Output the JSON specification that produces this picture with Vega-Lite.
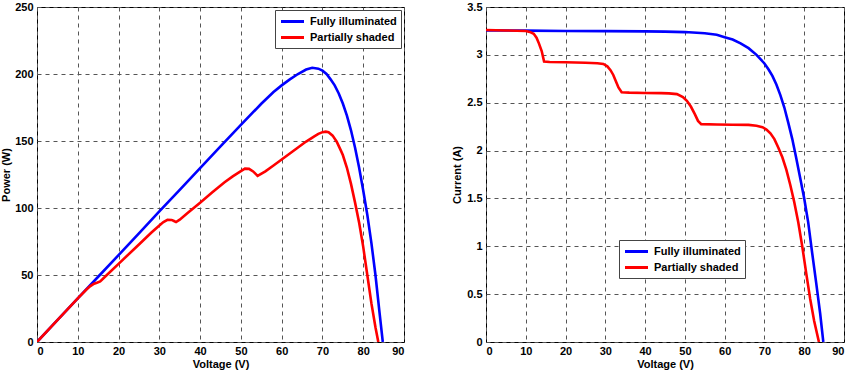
{
  "$schema": "https://vega.github.io/schema/vega-lite/v6.json",
  "padding": {"left": 0, "top": 0, "right": 0, "bottom": 0},
  "background": "white",
  "spacing": 82,
  "bounds": "flush",
  "config": {
    "font": "Liberation Sans",
    "view": {"stroke": "black", "strokeWidth": 1},
    "axis": {
      "domain": false,
      "ticks": false,
      "labelFont": "Liberation Sans",
      "labelFontWeight": "bold",
      "labelFontSize": 11,
      "labelColor": "black",
      "titleFont": "Liberation Sans",
      "titleFontWeight": "bold",
      "titleFontSize": 11,
      "titleColor": "black",
      "grid": true,
      "gridColor": "#555555",
      "gridDash": [4, 4],
      "gridWidth": 1,
      "gridOpacity": 1,
      "labelPadding": 4
    },
    "legend": {
      "labelFont": "Liberation Sans",
      "labelFontWeight": "bold",
      "labelFontSize": 11,
      "labelColor": "black",
      "symbolType": "M-2,0H2",
      "symbolStrokeWidth": 3,
      "symbolSize": 132,
      "symbolOffset": 6,
      "strokeColor": "#444444",
      "fillColor": "white",
      "padding": 4,
      "rowPadding": 2,
      "labelOffset": 10
    }
  },
  "datasets": {
    "pv": [
      {"v": 0, "p": 0, "s": "Fully illuminated"},
      {"v": 5, "p": 16.3, "s": "Fully illuminated"},
      {"v": 10, "p": 32.5, "s": "Fully illuminated"},
      {"v": 15, "p": 48.7, "s": "Fully illuminated"},
      {"v": 20, "p": 64.9, "s": "Fully illuminated"},
      {"v": 25, "p": 81.1, "s": "Fully illuminated"},
      {"v": 30, "p": 97.4, "s": "Fully illuminated"},
      {"v": 35, "p": 113.6, "s": "Fully illuminated"},
      {"v": 40, "p": 129.8, "s": "Fully illuminated"},
      {"v": 45, "p": 146, "s": "Fully illuminated"},
      {"v": 50, "p": 162.1, "s": "Fully illuminated"},
      {"v": 55, "p": 177.8, "s": "Fully illuminated"},
      {"v": 58, "p": 186.5, "s": "Fully illuminated"},
      {"v": 60, "p": 191.5, "s": "Fully illuminated"},
      {"v": 62, "p": 196, "s": "Fully illuminated"},
      {"v": 64, "p": 200, "s": "Fully illuminated"},
      {"v": 66, "p": 203.3, "s": "Fully illuminated"},
      {"v": 67.5, "p": 204.6, "s": "Fully illuminated"},
      {"v": 69, "p": 204, "s": "Fully illuminated"},
      {"v": 70, "p": 202.5, "s": "Fully illuminated"},
      {"v": 71, "p": 200, "s": "Fully illuminated"},
      {"v": 72, "p": 196, "s": "Fully illuminated"},
      {"v": 73, "p": 191.5, "s": "Fully illuminated"},
      {"v": 74, "p": 185.5, "s": "Fully illuminated"},
      {"v": 75, "p": 178, "s": "Fully illuminated"},
      {"v": 76, "p": 169, "s": "Fully illuminated"},
      {"v": 77, "p": 158, "s": "Fully illuminated"},
      {"v": 78, "p": 145, "s": "Fully illuminated"},
      {"v": 79, "p": 130, "s": "Fully illuminated"},
      {"v": 80, "p": 113, "s": "Fully illuminated"},
      {"v": 81, "p": 95, "s": "Fully illuminated"},
      {"v": 82, "p": 74, "s": "Fully illuminated"},
      {"v": 83, "p": 50, "s": "Fully illuminated"},
      {"v": 84, "p": 22, "s": "Fully illuminated"},
      {"v": 84.8, "p": 0, "s": "Fully illuminated"},
      {"v": 0, "p": 0, "s": "Partially shaded"},
      {"v": 5, "p": 16.3, "s": "Partially shaded"},
      {"v": 10, "p": 32.5, "s": "Partially shaded"},
      {"v": 12, "p": 38.8, "s": "Partially shaded"},
      {"v": 13, "p": 41.5, "s": "Partially shaded"},
      {"v": 14, "p": 43.5, "s": "Partially shaded"},
      {"v": 14.7, "p": 44.2, "s": "Partially shaded"},
      {"v": 15.5, "p": 45.2, "s": "Partially shaded"},
      {"v": 17, "p": 49.6, "s": "Partially shaded"},
      {"v": 20, "p": 58.3, "s": "Partially shaded"},
      {"v": 25, "p": 72.8, "s": "Partially shaded"},
      {"v": 28, "p": 81.5, "s": "Partially shaded"},
      {"v": 30, "p": 87, "s": "Partially shaded"},
      {"v": 31, "p": 89.5, "s": "Partially shaded"},
      {"v": 32, "p": 91.2, "s": "Partially shaded"},
      {"v": 33, "p": 91.1, "s": "Partially shaded"},
      {"v": 33.6, "p": 90.3, "s": "Partially shaded"},
      {"v": 34.1, "p": 89.5, "s": "Partially shaded"},
      {"v": 35, "p": 91.3, "s": "Partially shaded"},
      {"v": 37, "p": 96.4, "s": "Partially shaded"},
      {"v": 40, "p": 104, "s": "Partially shaded"},
      {"v": 43, "p": 111.7, "s": "Partially shaded"},
      {"v": 46, "p": 119.2, "s": "Partially shaded"},
      {"v": 48, "p": 123.6, "s": "Partially shaded"},
      {"v": 50, "p": 127.5, "s": "Partially shaded"},
      {"v": 51, "p": 129.4, "s": "Partially shaded"},
      {"v": 52, "p": 129.2, "s": "Partially shaded"},
      {"v": 53, "p": 127.3, "s": "Partially shaded"},
      {"v": 54.1, "p": 124, "s": "Partially shaded"},
      {"v": 56, "p": 127.3, "s": "Partially shaded"},
      {"v": 58, "p": 131.7, "s": "Partially shaded"},
      {"v": 60, "p": 136.2, "s": "Partially shaded"},
      {"v": 62, "p": 140.7, "s": "Partially shaded"},
      {"v": 64, "p": 145.2, "s": "Partially shaded"},
      {"v": 66, "p": 149.6, "s": "Partially shaded"},
      {"v": 68, "p": 153.5, "s": "Partially shaded"},
      {"v": 69, "p": 155.3, "s": "Partially shaded"},
      {"v": 70, "p": 156.6, "s": "Partially shaded"},
      {"v": 70.8, "p": 157, "s": "Partially shaded"},
      {"v": 71.5, "p": 156.5, "s": "Partially shaded"},
      {"v": 72.5, "p": 154, "s": "Partially shaded"},
      {"v": 73.5, "p": 149.5, "s": "Partially shaded"},
      {"v": 74.5, "p": 143, "s": "Partially shaded"},
      {"v": 75, "p": 139.5, "s": "Partially shaded"},
      {"v": 76, "p": 130, "s": "Partially shaded"},
      {"v": 77, "p": 118, "s": "Partially shaded"},
      {"v": 78, "p": 104, "s": "Partially shaded"},
      {"v": 79, "p": 89, "s": "Partially shaded"},
      {"v": 80, "p": 71, "s": "Partially shaded"},
      {"v": 81, "p": 50, "s": "Partially shaded"},
      {"v": 82, "p": 29, "s": "Partially shaded"},
      {"v": 83, "p": 11, "s": "Partially shaded"},
      {"v": 83.7, "p": 0, "s": "Partially shaded"}
    ],
    "iv": [
      {"v": 0, "i": 3.256, "s": "Fully illuminated"},
      {"v": 10, "i": 3.253, "s": "Fully illuminated"},
      {"v": 20, "i": 3.25, "s": "Fully illuminated"},
      {"v": 30, "i": 3.248, "s": "Fully illuminated"},
      {"v": 40, "i": 3.245, "s": "Fully illuminated"},
      {"v": 45, "i": 3.243, "s": "Fully illuminated"},
      {"v": 50, "i": 3.238, "s": "Fully illuminated"},
      {"v": 55, "i": 3.225, "s": "Fully illuminated"},
      {"v": 58, "i": 3.21, "s": "Fully illuminated"},
      {"v": 60, "i": 3.185, "s": "Fully illuminated"},
      {"v": 62, "i": 3.16, "s": "Fully illuminated"},
      {"v": 64, "i": 3.12, "s": "Fully illuminated"},
      {"v": 66, "i": 3.07, "s": "Fully illuminated"},
      {"v": 68, "i": 3.0, "s": "Fully illuminated"},
      {"v": 70, "i": 2.91, "s": "Fully illuminated"},
      {"v": 71, "i": 2.85, "s": "Fully illuminated"},
      {"v": 72, "i": 2.78, "s": "Fully illuminated"},
      {"v": 73, "i": 2.69, "s": "Fully illuminated"},
      {"v": 74, "i": 2.58, "s": "Fully illuminated"},
      {"v": 75, "i": 2.45, "s": "Fully illuminated"},
      {"v": 76, "i": 2.29, "s": "Fully illuminated"},
      {"v": 77, "i": 2.12, "s": "Fully illuminated"},
      {"v": 78, "i": 1.92, "s": "Fully illuminated"},
      {"v": 79, "i": 1.71, "s": "Fully illuminated"},
      {"v": 80, "i": 1.5, "s": "Fully illuminated"},
      {"v": 81, "i": 1.25, "s": "Fully illuminated"},
      {"v": 82, "i": 0.93, "s": "Fully illuminated"},
      {"v": 83, "i": 0.62, "s": "Fully illuminated"},
      {"v": 84, "i": 0.3, "s": "Fully illuminated"},
      {"v": 84.8, "i": 0, "s": "Fully illuminated"},
      {"v": 0, "i": 3.26, "s": "Partially shaded"},
      {"v": 5, "i": 3.255, "s": "Partially shaded"},
      {"v": 10, "i": 3.25, "s": "Partially shaded"},
      {"v": 11, "i": 3.24, "s": "Partially shaded"},
      {"v": 12, "i": 3.22, "s": "Partially shaded"},
      {"v": 12.7, "i": 3.18, "s": "Partially shaded"},
      {"v": 13.3, "i": 3.12, "s": "Partially shaded"},
      {"v": 14, "i": 3.04, "s": "Partially shaded"},
      {"v": 14.6, "i": 2.93, "s": "Partially shaded"},
      {"v": 16, "i": 2.925, "s": "Partially shaded"},
      {"v": 20, "i": 2.922, "s": "Partially shaded"},
      {"v": 25, "i": 2.918, "s": "Partially shaded"},
      {"v": 28, "i": 2.913, "s": "Partially shaded"},
      {"v": 29.5, "i": 2.905, "s": "Partially shaded"},
      {"v": 30.5, "i": 2.88, "s": "Partially shaded"},
      {"v": 31.3, "i": 2.84, "s": "Partially shaded"},
      {"v": 32, "i": 2.79, "s": "Partially shaded"},
      {"v": 32.7, "i": 2.72, "s": "Partially shaded"},
      {"v": 33.3, "i": 2.66, "s": "Partially shaded"},
      {"v": 34.1, "i": 2.61, "s": "Partially shaded"},
      {"v": 36, "i": 2.605, "s": "Partially shaded"},
      {"v": 40, "i": 2.602, "s": "Partially shaded"},
      {"v": 44, "i": 2.6, "s": "Partially shaded"},
      {"v": 46, "i": 2.598, "s": "Partially shaded"},
      {"v": 48, "i": 2.59, "s": "Partially shaded"},
      {"v": 49.5, "i": 2.56, "s": "Partially shaded"},
      {"v": 50.5, "i": 2.52, "s": "Partially shaded"},
      {"v": 51.5, "i": 2.46, "s": "Partially shaded"},
      {"v": 52.5, "i": 2.38, "s": "Partially shaded"},
      {"v": 53.3, "i": 2.31, "s": "Partially shaded"},
      {"v": 54.1, "i": 2.276, "s": "Partially shaded"},
      {"v": 58, "i": 2.272, "s": "Partially shaded"},
      {"v": 62, "i": 2.27, "s": "Partially shaded"},
      {"v": 66, "i": 2.268, "s": "Partially shaded"},
      {"v": 68, "i": 2.26, "s": "Partially shaded"},
      {"v": 69.5, "i": 2.245, "s": "Partially shaded"},
      {"v": 70.5, "i": 2.22, "s": "Partially shaded"},
      {"v": 71.5, "i": 2.18, "s": "Partially shaded"},
      {"v": 72.5, "i": 2.12, "s": "Partially shaded"},
      {"v": 73.5, "i": 2.03, "s": "Partially shaded"},
      {"v": 74.5, "i": 1.93, "s": "Partially shaded"},
      {"v": 75.5, "i": 1.8, "s": "Partially shaded"},
      {"v": 76.5, "i": 1.64, "s": "Partially shaded"},
      {"v": 77.5, "i": 1.46, "s": "Partially shaded"},
      {"v": 78.5, "i": 1.25, "s": "Partially shaded"},
      {"v": 79.5, "i": 1.0, "s": "Partially shaded"},
      {"v": 80.5, "i": 0.72, "s": "Partially shaded"},
      {"v": 81.5, "i": 0.45, "s": "Partially shaded"},
      {"v": 82.5, "i": 0.22, "s": "Partially shaded"},
      {"v": 83.7, "i": 0, "s": "Partially shaded"}
    ]
  },
  "resolve": {"legend": {"color": "independent"}, "scale": {"color": "independent"}},
  "hconcat": [
    {
      "width": 367,
      "height": 335,
      "data": {"name": "pv"},
      "mark": {"type": "line", "strokeWidth": 2.6, "clip": true},
      "encoding": {
        "x": {"field": "v", "type": "quantitative", "scale": {"domain": [0, 90], "nice": false},
          "axis": {"values": [0,10,20,30,40,50,60,70,80,90], "title": "Voltage (V)", "titlePadding": 2, "labelPadding": 3}},
        "y": {"field": "p", "type": "quantitative", "scale": {"domain": [0, 250], "nice": false},
          "axis": {"values": [0,50,100,150,200,250], "title": "Power (W)", "titlePadding": 3}},
        "color": {"field": "s", "type": "nominal",
          "scale": {"domain": ["Fully illuminated", "Partially shaded"], "range": ["#0000ff", "#ff0000"]},
          "legend": {"title": null, "orient": "none", "legendX": 238, "legendY": 3}},
        "order": {"field": "v", "type": "quantitative"}
      }
    },
    {
      "width": 358,
      "height": 335,
      "data": {"name": "iv"},
      "mark": {"type": "line", "strokeWidth": 2.6, "clip": true},
      "encoding": {
        "x": {"field": "v", "type": "quantitative", "scale": {"domain": [0, 90], "nice": false},
          "axis": {"values": [0,10,20,30,40,50,60,70,80,90], "title": "Voltage (V)", "titlePadding": 2, "labelPadding": 3}},
        "y": {"field": "i", "type": "quantitative", "scale": {"domain": [0, 3.5], "nice": false},
          "axis": {"values": [0,0.5,1,1.5,2,2.5,3,3.5], "format": "~g", "title": "Current (A)", "titlePadding": 4}},
        "color": {"field": "s", "type": "nominal",
          "scale": {"domain": ["Fully illuminated", "Partially shaded"], "range": ["#0000ff", "#ff0000"]},
          "legend": {"title": null, "orient": "none", "legendX": 133, "legendY": 233}},
        "order": {"field": "v", "type": "quantitative"}
      }
    }
  ]
}
